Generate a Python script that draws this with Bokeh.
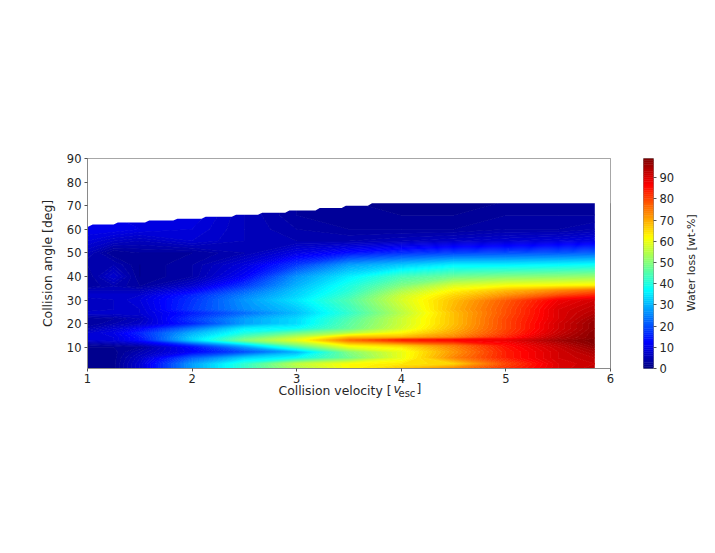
from bokeh.embed import file_html
from bokeh.resources import INLINE
from bokeh.plotting import figure
from bokeh.layouts import row
from bokeh.models import FixedTicker, Label, LinearAxis
import numpy as np
import math

velocity = [1.0, 1.25, 1.5, 2.0, 2.5, 3.0, 3.5, 4.0, 4.5, 5.0, 5.5, 5.85]
angles = [1, 3, 5.5, 8, 10, 11, 13, 14, 16, 18, 20, 22, 24.5, 26, 30, 32, 34, 36, 40, 45, 50, 55, 60, 66, 72]
loss_a01 = [1, 1.5, 8, 28, 42, 54, 62, 68, 74, 82, 90, 93]
loss_a03 = [1, 1.5, 8, 28, 42, 56, 62, 64, 66, 80, 90, 92]
loss_a05 = [1, 1.5, 7, 22, 33, 38, 48, 60, 74, 84, 91, 93]
loss_a08 = [1, 1.5, 5, 12, 20, 30, 50, 60, 72, 84, 91, 95]
loss_a10 = [2, 2, 3, 13, 27, 44, 60, 64, 74, 85, 92, 97]
loss_a11 = [3, 4, 6, 18, 33, 50, 64, 68, 76, 86, 93, 98]
loss_a13 = [8, 9, 14, 33, 50, 60, 76, 84, 87, 89, 96, 98.9]
loss_a14 = [8, 9, 14, 33, 47, 57, 70, 70, 75, 84, 94, 98]
loss_a16 = [8, 10, 16, 30, 40, 48, 55, 63, 71, 81, 92, 98]
loss_a18 = [5, 8, 12, 24, 36, 38, 47, 58, 69, 80, 91, 97]
loss_a20 = [3, 5, 7, 16, 28, 34, 46, 57, 68, 80, 91, 97]
loss_a22 = [3, 4, 6, 18, 28, 34, 45, 57, 68, 80, 90, 96]
loss_a24 = [8, 8, 8, 15, 23, 31, 42, 55, 68, 79, 90, 94]
loss_a26 = [6, 7, 8, 18, 26, 32, 43, 56, 69, 79, 90, 93]
loss_a30 = [6, 7, 9, 17, 27, 35, 45, 58, 68, 78, 88, 91]
loss_a32 = [8, 8, 8, 16, 25, 33, 43, 57, 66, 73, 80, 84]
loss_a34 = [6, 6, 6, 12, 22, 32, 41, 54, 63, 69, 74, 77]
loss_a36 = [3, 5, 3, 8, 18, 30, 40, 50, 59, 62, 63, 64]
loss_a40 = [3, 8, 2, 4, 12, 27, 36, 44, 48, 50, 51, 52]
loss_a45 = [4, 5, 2, 4, 9, 18, 28, 32, 36, 36, 37, 38]
loss_a50 = [6, 2, 3, 3, 5, 10, 14, 17, 19, 20, 21, 22]
loss_a55 = [9, 7, 6, 8, 6, 5, 5, 6, 7, 8, 9, 10]
loss_a60 = [11, 11, 10, 9, 6, 4, 3, 3, 3, 4, 4, 5]
loss_a66 = [10, 10, 10, 10, 6, 3, 3, 2, 2, 3, 3, 3]
loss_a72 = [10, 10, 10, 10, 6, 3, 2, 2, 2, 2, 2, 2]
loss_rows = [loss_a01, loss_a03, loss_a05, loss_a08, loss_a10, loss_a11, loss_a13, loss_a14, loss_a16,
             loss_a18, loss_a20, loss_a22, loss_a24, loss_a26, loss_a30, loss_a32, loss_a34, loss_a36,
             loss_a40, loss_a45, loss_a50, loss_a55, loss_a60, loss_a66, loss_a72]

# upper limit of the sampled region (stepped edge)
edge_v = [1.0, 1.05, 1.25, 1.29, 1.55, 1.59, 1.82, 1.86, 2.09, 2.13, 2.38, 2.42, 2.63, 2.67, 2.89, 2.93, 3.18,
          3.22, 3.43, 3.47, 3.68, 3.72, 6.0]
edge_a = [61, 62, 62, 62.9, 62.9, 63.7, 63.7, 64.5, 64.5, 65.3, 65.3, 66.2, 66.2, 67, 67, 68, 68,
          69, 69, 70, 70, 71, 71]

levels = list(range(0, 100))
x_ticks = [1, 2, 3, 4, 5, 6]
y_ticks = [10, 20, 30, 40, 50, 60, 70, 80, 90]
cb_ticks = [0, 10, 20, 30, 40, 50, 60, 70, 80, 90]


def jet(t):
    r = np.clip(min(4 * t - 1.5, -4 * t + 4.5), 0, 1)
    g = np.clip(min(4 * t - 0.5, -4 * t + 3.5), 0, 1)
    b = np.clip(min(4 * t + 0.5, -4 * t + 2.5), 0, 1)
    return "#%02x%02x%02x" % (int(r * 255), int(g * 255), int(b * 255))


fill = [jet((a + 0.5) / 99) for a in levels[:-1]]
INK = "#262626"
FRAME = "#8a8a8a"


def style(ax, size):
    ax.major_label_text_font = "DejaVu Sans"
    ax.major_label_text_font_size = size
    ax.major_label_text_color = INK
    ax.axis_line_color = FRAME
    ax.major_tick_line_color = "#555555"
    ax.major_tick_in = 0
    ax.major_tick_out = 3
    ax.major_label_standoff = 3
    ax.minor_tick_line_color = None


p = figure(frame_width=523, frame_height=210, x_range=(1, 6), y_range=(1, 90), output_backend="svg",
           toolbar_location=None, min_border_left=87, min_border_right=5, min_border_top=158, min_border_bottom=0)
p.grid.visible = False
p.outline_line_color = FRAME
p.xaxis.ticker = FixedTicker(ticks=x_ticks)
p.yaxis.ticker = FixedTicker(ticks=y_ticks)
style(p.xaxis[0], "11.5px")
style(p.yaxis[0], "11.5px")
p.xaxis.major_label_standoff = 2
p.yaxis.axis_label = "Collision angle [deg]"
p.yaxis.axis_label_text_font = "DejaVu Sans"
p.yaxis.axis_label_text_font_style = "normal"
p.yaxis.axis_label_text_font_size = "12.4px"
p.yaxis.axis_label_text_color = INK
p.yaxis.axis_label_standoff = 9

p.contour(np.array(velocity), np.array(angles, dtype=float), np.array(loss_rows, dtype=float), levels,
          fill_color=fill, line_color=[fill[0]] + fill, line_width=1)
p.varea(x=edge_v, y1=edge_a, y2=[90] * len(edge_a), fill_color="white")

for txt, x, size, style_, y in [("Collision velocity [", 191, "12.4px", "normal", 3),
                                ("v", 306, "12.4px", "italic", 20),
                                ("esc", 311, "10px", "normal", 28),
                                ("]", 329, "12.4px", "normal", 46)]:
    p.add_layout(Label(x=x, y=y, x_units="screen", y_units="screen", text=txt,
                       text_font="DejaVu Sans", text_font_size=size, text_font_style=style_,
                       text_color=INK), "below")

cb = figure(frame_width=10, frame_height=210, x_range=(0, 1), y_range=(0, 99), output_backend="svg",
            toolbar_location=None, y_axis_location="right", min_border_left=28, min_border_right=10,
            min_border_top=158, min_border_bottom=20)
cb.grid.visible = False
cb.xaxis.visible = False
cb.outline_line_color = FRAME
cb.quad(left=0, right=1, bottom=levels[:-1], top=levels[1:], fill_color=fill, line_color=fill, line_width=0.5)
cb.yaxis.ticker = FixedTicker(ticks=cb_ticks)
style(cb.yaxis[0], "11.5px")
cb.yaxis.axis_line_color = None

cb_title = LinearAxis(ticker=FixedTicker(ticks=[27]), major_label_overrides={27: "Water loss [wt-%]"},
                      major_label_orientation=math.pi / 2, major_label_standoff=14,
                      major_label_text_font="DejaVu Sans", major_label_text_font_size="11px",
                      major_label_text_color=INK, axis_line_color=None, major_tick_line_color=None,
                      minor_tick_line_color=None, major_tick_out=0, major_tick_in=0)
cb.add_layout(cb_title, "right")

open("out.html", "w").write(file_html(row(p, cb, spacing=0), INLINE))
